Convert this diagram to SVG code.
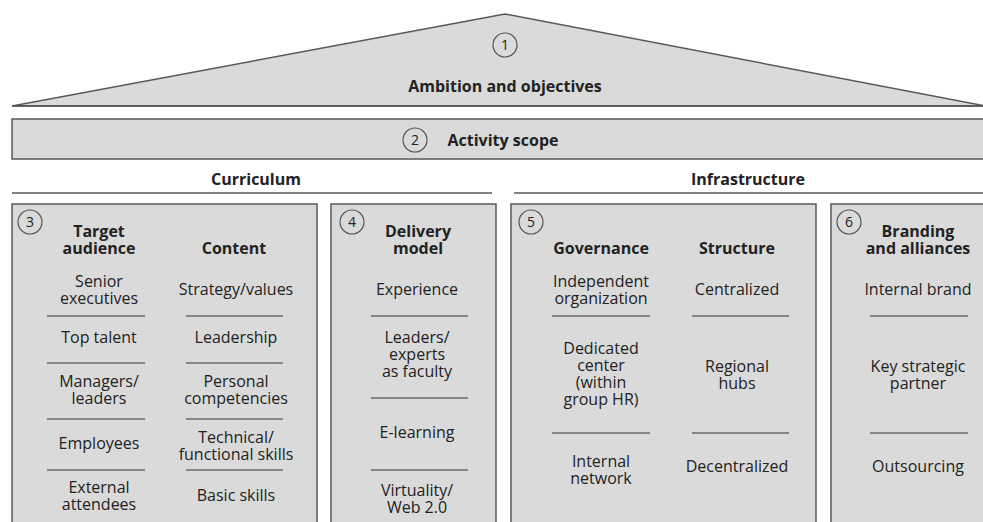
<svg xmlns="http://www.w3.org/2000/svg" width="983" height="522" viewBox="0 0 983 522">
  <style>
    .panel { fill: #dadada; stroke: #585858; stroke-width: 1.5; }
    .rule { stroke: #585858; stroke-width: 1.5; fill: none; }
    .sep { stroke: #6a6a6a; stroke-width: 1.4; }
    .num { fill: none; stroke: #555; stroke-width: 1.2; }
    text { font-family: "Open Sans", "Noto Sans", "DejaVu Sans", sans-serif; fill: #222; text-anchor: middle; }
    .n { font-size: 14px; }
    .h { font-size: 16px; font-weight: bold; }
    .t { font-size: 16px; }
  </style>
  <rect width="983" height="522" fill="#ffffff"/>

  <!-- Roof -->
  <g id="ambition">
    <polygon class="panel" points="12,106 505,14 986,106" stroke-width="1.3"/>
    <line class="rule" x1="12" y1="106" x2="983" y2="106" stroke-width="2"/>
    <circle class="num" cx="505" cy="45" r="12"/>
    <text class="n" x="505" y="50">1</text>
    <text class="h" x="505" y="92" font-size="16.5">Ambition and objectives</text>
  </g>

  <!-- Scope bar -->
  <g id="scope">
    <rect class="panel" x="12" y="119" width="990" height="40"/>
    <circle class="num" cx="415" cy="140" r="12"/>
    <text class="n" x="415" y="145">2</text>
    <text class="h" x="503" y="146">Activity scope</text>
  </g>

  <!-- Section headers -->
  <g id="curriculum">
    <text class="h" x="256" y="185" font-size="17">Curriculum</text>
    <line class="rule" x1="12" y1="193" x2="492" y2="193"/>
  </g>
  <g id="infrastructure">
    <text class="h" x="748" y="185">Infrastructure</text>
    <line class="rule" x1="514" y1="193" x2="983" y2="193"/>
  </g>

  <!-- 3: target audience and content -->
  <g id="audience-content">
    <rect class="panel" x="12" y="204" width="305" height="330"/>
    <circle class="num" cx="30" cy="222" r="12"/>
    <text class="n" x="30" y="227">3</text>
    <text class="h" x="99" y="237">Target<tspan x="99" dy="17">audience</tspan></text>
    <text class="h" x="234" y="254">Content</text>

    <text class="t" x="99" y="287">Senior<tspan x="99" dy="17">executives</tspan></text>
    <text class="t" x="99" y="343">Top talent</text>
    <text class="t" x="99" y="387">Managers/<tspan x="99" dy="17">leaders</tspan></text>
    <text class="t" x="99" y="449">Employees</text>
    <text class="t" x="99" y="493">External<tspan x="99" dy="17">attendees</tspan></text>

    <text class="t" x="236" y="295">Strategy/values</text>
    <text class="t" x="236" y="343">Leadership</text>
    <text class="t" x="236" y="387">Personal<tspan x="236" dy="17">competencies</tspan></text>
    <text class="t" x="236" y="443">Technical/<tspan x="236" dy="17">functional skills</tspan></text>
    <text class="t" x="236" y="501">Basic skills</text>

    <line class="sep" x1="47" y1="316" x2="145" y2="316"/>
    <line class="sep" x1="47" y1="363" x2="145" y2="363"/>
    <line class="sep" x1="47" y1="419" x2="145" y2="419"/>
    <line class="sep" x1="47" y1="470" x2="145" y2="470"/>
    <line class="sep" x1="186" y1="316" x2="283" y2="316"/>
    <line class="sep" x1="186" y1="363" x2="283" y2="363"/>
    <line class="sep" x1="186" y1="419" x2="283" y2="419"/>
    <line class="sep" x1="186" y1="470" x2="283" y2="470"/>
  </g>

  <!-- 4: delivery model -->
  <g id="delivery">
    <rect class="panel" x="331" y="204" width="165" height="330"/>
    <circle class="num" cx="352" cy="222" r="12"/>
    <text class="n" x="352" y="227">4</text>
    <text class="h" x="418" y="237">Delivery<tspan x="418" dy="17">model</tspan></text>

    <text class="t" x="417" y="295">Experience</text>
    <text class="t" x="417" y="343">Leaders/<tspan x="417" dy="17">experts</tspan><tspan x="417" dy="17">as faculty</tspan></text>
    <text class="t" x="417" y="438">E-learning</text>
    <text class="t" x="417" y="496">Virtuality/<tspan x="417" dy="17">Web 2.0</tspan></text>

    <line class="sep" x1="371" y1="316" x2="468" y2="316"/>
    <line class="sep" x1="371" y1="398" x2="468" y2="398"/>
    <line class="sep" x1="371" y1="470" x2="468" y2="470"/>
  </g>

  <!-- 5: governance and structure -->
  <g id="governance-structure">
    <rect class="panel" x="511" y="204" width="305" height="330"/>
    <circle class="num" cx="531" cy="222" r="12"/>
    <text class="n" x="531" y="227">5</text>
    <text class="h" x="601" y="254">Governance</text>
    <text class="h" x="737" y="254">Structure</text>

    <text class="t" x="601" y="287">Independent<tspan x="601" dy="17">organization</tspan></text>
    <text class="t" x="601" y="354">Dedicated<tspan x="601" dy="17">center</tspan><tspan x="601" dy="17">(within</tspan><tspan x="601" dy="17">group HR)</tspan></text>
    <text class="t" x="601" y="467">Internal<tspan x="601" dy="17">network</tspan></text>

    <text class="t" x="737" y="295">Centralized</text>
    <text class="t" x="737" y="372">Regional<tspan x="737" dy="17">hubs</tspan></text>
    <text class="t" x="737" y="472">Decentralized</text>

    <line class="sep" x1="552" y1="316" x2="650" y2="316"/>
    <line class="sep" x1="552" y1="433" x2="650" y2="433"/>
    <line class="sep" x1="692" y1="316" x2="789" y2="316"/>
    <line class="sep" x1="692" y1="433" x2="789" y2="433"/>
  </g>

  <!-- 6: branding and alliances -->
  <g id="branding">
    <rect class="panel" x="831" y="204" width="170" height="330"/>
    <circle class="num" cx="849" cy="222" r="12"/>
    <text class="n" x="849" y="227">6</text>
    <text class="h" x="918" y="237">Branding<tspan x="918" dy="17">and alliances</tspan></text>

    <text class="t" x="918" y="295">Internal brand</text>
    <text class="t" x="918" y="372">Key strategic<tspan x="918" dy="17">partner</tspan></text>
    <text class="t" x="918" y="472">Outsourcing</text>

    <line class="sep" x1="870" y1="316" x2="968" y2="316"/>
    <line class="sep" x1="870" y1="433" x2="968" y2="433"/>
  </g>
</svg>
